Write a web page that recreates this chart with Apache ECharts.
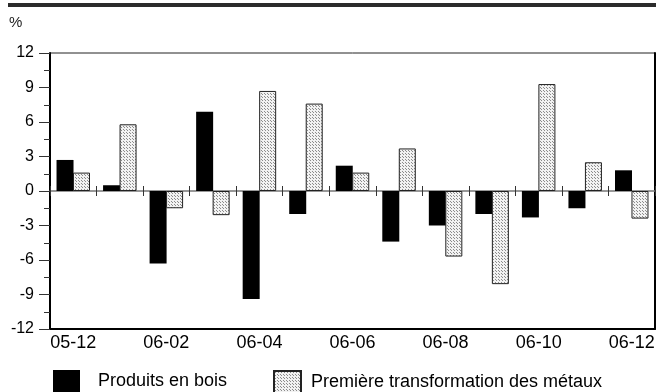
<!DOCTYPE html>
<html><head><meta charset="utf-8">
<script src="https://cdn.jsdelivr.net/npm/echarts@6/dist/echarts.min.js"></script>
<style>html,body{margin:0;padding:0;background:#fff}#c{width:658px;height:392px}</style>
</head><body><div id="c"></div>
<script>
const categories = ['05-12','06-01','06-02','06-03','06-04','06-05','06-06','06-07','06-08','06-09','06-10','06-11','06-12'];
const produitsBois = [2.7, 0.5, -6.3, 6.9, -9.4, -2.0, 2.2, -4.4, -3.0, -2.0, -2.3, -1.5, 1.8];
const premiereTransfo = [1.6, 5.8, -1.5, -2.1, 8.7, 7.6, 1.6, 3.7, -5.7, -8.1, 9.3, 2.5, -2.4];
const seriesNames = ['Produits en bois', 'Première transformation des métaux'];
const yMin = -12, yMax = 12, yStep = 3;

const pc = document.createElement('canvas');
pc.width = 3; pc.height = 3;
const px = pc.getContext('2d');
px.fillStyle = '#f2f2f2'; px.fillRect(0,0,3,3);
px.fillStyle = '#8c8c8c'; px.fillRect(0,0,1,1); px.fillRect(1,1,1,1);
const pattern = {image: pc, repeat: 'repeat'};

const FONT = 'Liberation Sans, Arial, sans-serif';
const chart = echarts.init(document.getElementById('c'), null, {renderer: 'canvas'});
chart.setOption({
  animation: false,
  title: {text: '%', left: 9, top: 15, padding: 0, textStyle: {fontFamily: FONT, fontSize: 15, fontWeight: 'normal', color: '#222'}},
  graphic: [{type: 'rect', shape: {x: 8, y: 3, width: 648, height: 4}, style: {fill: '#2b2b2b'}}],
  grid: {left: 50, right: 3, top: 53, bottom: 63, show: true, borderColor: '#222', borderWidth: 1},
  legend: [
    {data: [seriesNames[0]], left: 53, top: 370, padding: 0, itemWidth: 27, itemHeight: 22, icon: 'rect',
     textStyle: {fontFamily: FONT, fontSize: 18, color: '#000', padding: [0,0,0,13]}},
    {data: [seriesNames[1]], left: 273, top: 370, padding: 0, itemWidth: 27, itemHeight: 22, icon: 'rect',
     textStyle: {fontFamily: FONT, fontSize: 18, color: '#000', padding: [0,0,0,5]}}
  ],
  xAxis: [
    {type: 'category', data: categories, position: 'bottom',
     axisLine: {onZero: false, lineStyle: {color: '#000', width: 2}},
     axisTick: {show: false},
     axisLabel: {interval: 1, margin: 5, fontFamily: FONT, fontSize: 18, color: '#000'}},
    {type: 'category', data: categories, position: 'top',
     axisLine: {onZero: true, lineStyle: {color: '#777', width: 1.5}},
     axisTick: {show: true, interval: 0, length: 5, lineStyle: {color: '#333', width: 1}},
     axisLabel: {show: false}},
    {type: 'category', data: categories, position: 'top',
     axisLine: {show: false, onZero: true},
     axisTick: {show: true, inside: true, interval: 0, length: 5, lineStyle: {color: '#333', width: 1}},
     axisLabel: {show: false}}
  ],
  yAxis: [
    {type: 'value', min: yMin, max: yMax, interval: yStep,
     axisLine: {show: true, lineStyle: {color: '#000', width: 2}},
     axisTick: {show: true, length: 11, lineStyle: {color: '#333', width: 1}},
     minorTick: {show: true, splitNumber: 2, length: 6, lineStyle: {color: '#333', width: 1}},
     splitLine: {show: false},
     axisLabel: {margin: 16, fontFamily: FONT, fontSize: 16, color: '#000', padding: [0,0,11,0]}},
    {type: 'value', min: yMin, max: yMax, interval: yStep, position: 'right',
     axisLine: {show: true, lineStyle: {color: '#000', width: 2}},
     axisTick: {show: false}, axisLabel: {show: false}, splitLine: {show: false}}
  ],
  series: [
    {name: seriesNames[0], type: 'bar', data: produitsBois, barWidth: 17, barGap: '-3%',
     itemStyle: {color: '#000'}},
    {name: seriesNames[1], type: 'bar', data: premiereTransfo, barWidth: 17,
     itemStyle: {color: pattern, borderColor: '#222', borderWidth: 1}}
  ]
});
</script></body></html>
